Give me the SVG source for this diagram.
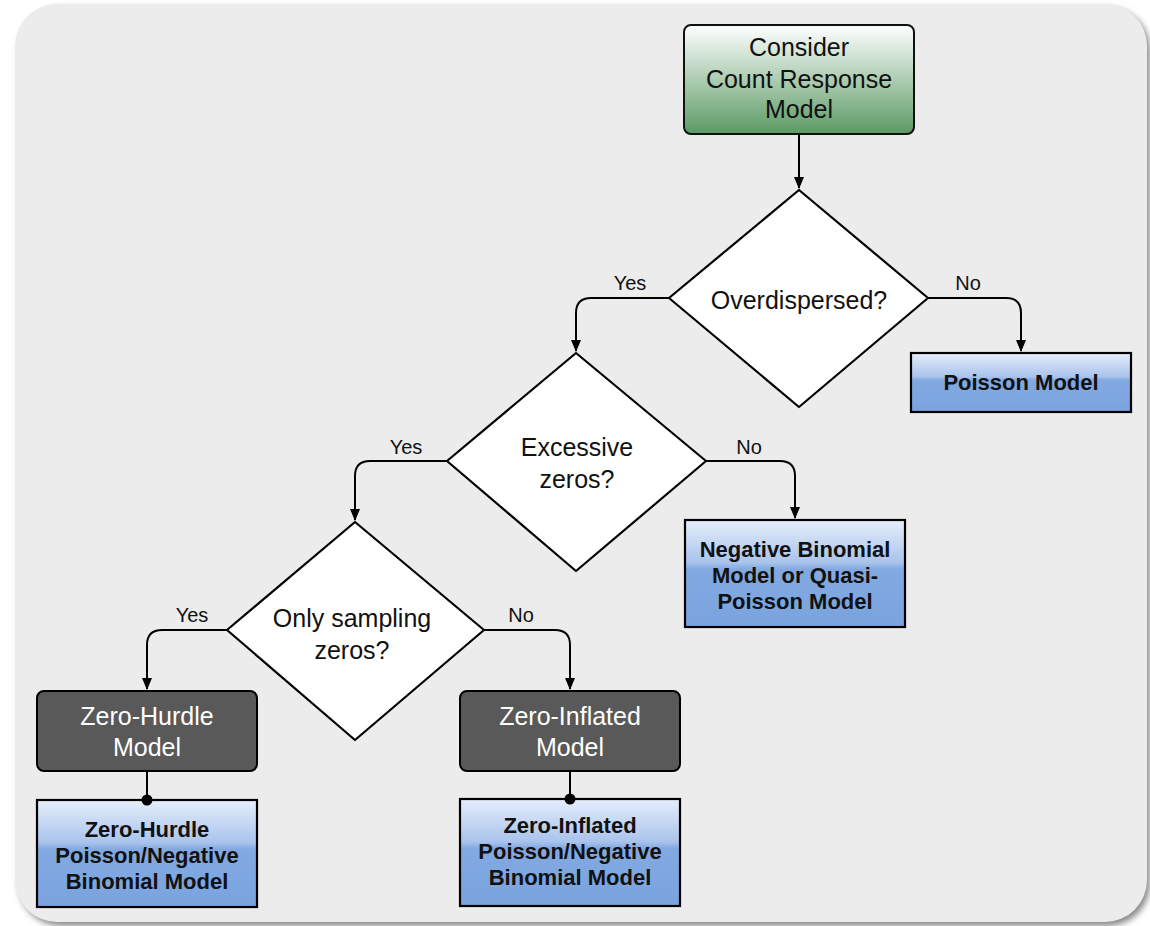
<svg xmlns="http://www.w3.org/2000/svg" width="1150" height="926" viewBox="0 0 1150 926">
  <defs>
    <linearGradient id="gGreen" x1="0" y1="0" x2="0" y2="1">
      <stop offset="0" stop-color="#ffffff"/>
      <stop offset="1" stop-color="#5b9a64"/>
    </linearGradient>
    <linearGradient id="gBlue" x1="0" y1="0" x2="0" y2="1">
      <stop offset="0" stop-color="#e6eefb"/>
      <stop offset="0.40" stop-color="#a9c3ec"/>
      <stop offset="0.46" stop-color="#82a9e1"/>
      <stop offset="1" stop-color="#7aa3df"/>
    </linearGradient>
    <filter id="bgShadow" x="-5%" y="-5%" width="110%" height="110%">
      <feGaussianBlur stdDeviation="3"/>
    </filter>
    <marker id="arrow" viewBox="0 0 12 12" refX="11" refY="6" markerWidth="12" markerHeight="12" markerUnits="userSpaceOnUse" orient="auto">
      <path d="M0,1 L12,6 L0,11 Z" fill="#000"/>
    </marker>
    <marker id="dot" viewBox="0 0 12 12" refX="6" refY="6" markerWidth="12" markerHeight="12" markerUnits="userSpaceOnUse" orient="auto">
      <circle cx="6" cy="6" r="5.5" fill="#000"/>
    </marker>
  </defs>
  <style>
    .txt { font-family: "Liberation Sans", Arial, sans-serif; fill: #111; text-anchor: middle; }
    .big { font-size: 25px; }
    .bold { font-size: 22px; font-weight: bold; }
    .lbl { font-size: 20px; }
    .white { fill: #ffffff; }
    .dia { fill: #ffffff; stroke: #000; stroke-width: 2.2; stroke-linejoin: round; }
    .blue { fill: url(#gBlue); stroke: #000; stroke-width: 2.2; }
    .dark { fill: #595959; stroke: #000; stroke-width: 2; }
    .edge { fill: none; stroke: #000; stroke-width: 2; }
  </style>

  <!-- canvas panel -->
  <rect x="19" y="8" width="1131" height="918" rx="42" fill="#8a8a8a" filter="url(#bgShadow)"/>
  <rect x="15" y="4" width="1132" height="918" rx="42" fill="#ececec"/>

  <g id="start">
    <rect x="684" y="25" width="230" height="109" rx="7" fill="url(#gGreen)" stroke="#111" stroke-width="2"/>
    <text class="txt big" x="799" y="56">Consider</text>
    <text class="txt big" x="799" y="88">Count Response</text>
    <text class="txt big" x="799" y="118">Model</text>
  </g>

  <g id="overdispersed">
    <path class="dia" d="M799,190 L928,298 L799,407 L669,298 Z"/>
    <text class="txt big" x="799" y="309">Overdispersed?</text>
  </g>

  <g id="poisson">
    <rect class="blue" x="911" y="353" width="220" height="59"/>
    <text class="txt bold" x="1021" y="390">Poisson Model</text>
  </g>

  <g id="excessive-zeros">
    <path class="dia" d="M576,353 L706,461 L576,571 L447,461 Z"/>
    <text class="txt big" x="577" y="456">Excessive</text>
    <text class="txt big" x="577" y="488">zeros?</text>
  </g>

  <g id="negbin">
    <rect class="blue" x="685" y="520" width="220" height="107"/>
    <text class="txt bold" x="795" y="557">Negative Binomial</text>
    <text class="txt bold" x="795" y="583">Model or Quasi-</text>
    <text class="txt bold" x="795" y="609">Poisson Model</text>
  </g>

  <g id="sampling-zeros">
    <path class="dia" d="M355,522 L484,630 L355,740 L227,630 Z"/>
    <text class="txt big" x="352" y="627">Only sampling</text>
    <text class="txt big" x="352" y="659">zeros?</text>
  </g>

  <g id="zero-hurdle">
    <rect class="dark" x="37" y="691" width="220" height="80" rx="7"/>
    <text class="txt big white" x="147" y="725">Zero-Hurdle</text>
    <text class="txt big white" x="147" y="756">Model</text>
  </g>

  <g id="zero-inflated">
    <rect class="dark" x="460" y="691" width="220" height="80" rx="7"/>
    <text class="txt big white" x="570" y="725">Zero-Inflated</text>
    <text class="txt big white" x="570" y="756">Model</text>
  </g>

  <g id="zh-model">
    <rect class="blue" x="37" y="800" width="220" height="107"/>
    <text class="txt bold" x="147" y="837">Zero-Hurdle</text>
    <text class="txt bold" x="147" y="863">Poisson/Negative</text>
    <text class="txt bold" x="147" y="889">Binomial Model</text>
  </g>

  <g id="zi-model">
    <rect class="blue" x="460" y="799" width="220" height="107"/>
    <text class="txt bold" x="570" y="833">Zero-Inflated</text>
    <text class="txt bold" x="570" y="859">Poisson/Negative</text>
    <text class="txt bold" x="570" y="885">Binomial Model</text>
  </g>

  <!-- connectors -->
  <g id="connectors">
    <path class="edge" d="M799,134 V188" marker-end="url(#arrow)"/>
    <path class="edge" d="M669,298 H591 Q576,298 576,313 V351" marker-end="url(#arrow)"/>
    <path class="edge" d="M928,298 H1006 Q1021,298 1021,313 V351" marker-end="url(#arrow)"/>
    <path class="edge" d="M447,461 H370 Q355,461 355,476 V520" marker-end="url(#arrow)"/>
    <path class="edge" d="M706,461 H780 Q795,461 795,476 V518" marker-end="url(#arrow)"/>
    <path class="edge" d="M227,630 H162 Q147,630 147,645 V689" marker-end="url(#arrow)"/>
    <path class="edge" d="M484,630 H555 Q570,630 570,645 V689" marker-end="url(#arrow)"/>
    <path class="edge" d="M147,771 V800" marker-end="url(#dot)"/>
    <path class="edge" d="M570,771 V799" marker-end="url(#dot)"/>
    <text class="txt lbl" x="630" y="290">Yes</text>
    <text class="txt lbl" x="968" y="290">No</text>
    <text class="txt lbl" x="406" y="454">Yes</text>
    <text class="txt lbl" x="749" y="454">No</text>
    <text class="txt lbl" x="192" y="622">Yes</text>
    <text class="txt lbl" x="521" y="622">No</text>
  </g>
</svg>
